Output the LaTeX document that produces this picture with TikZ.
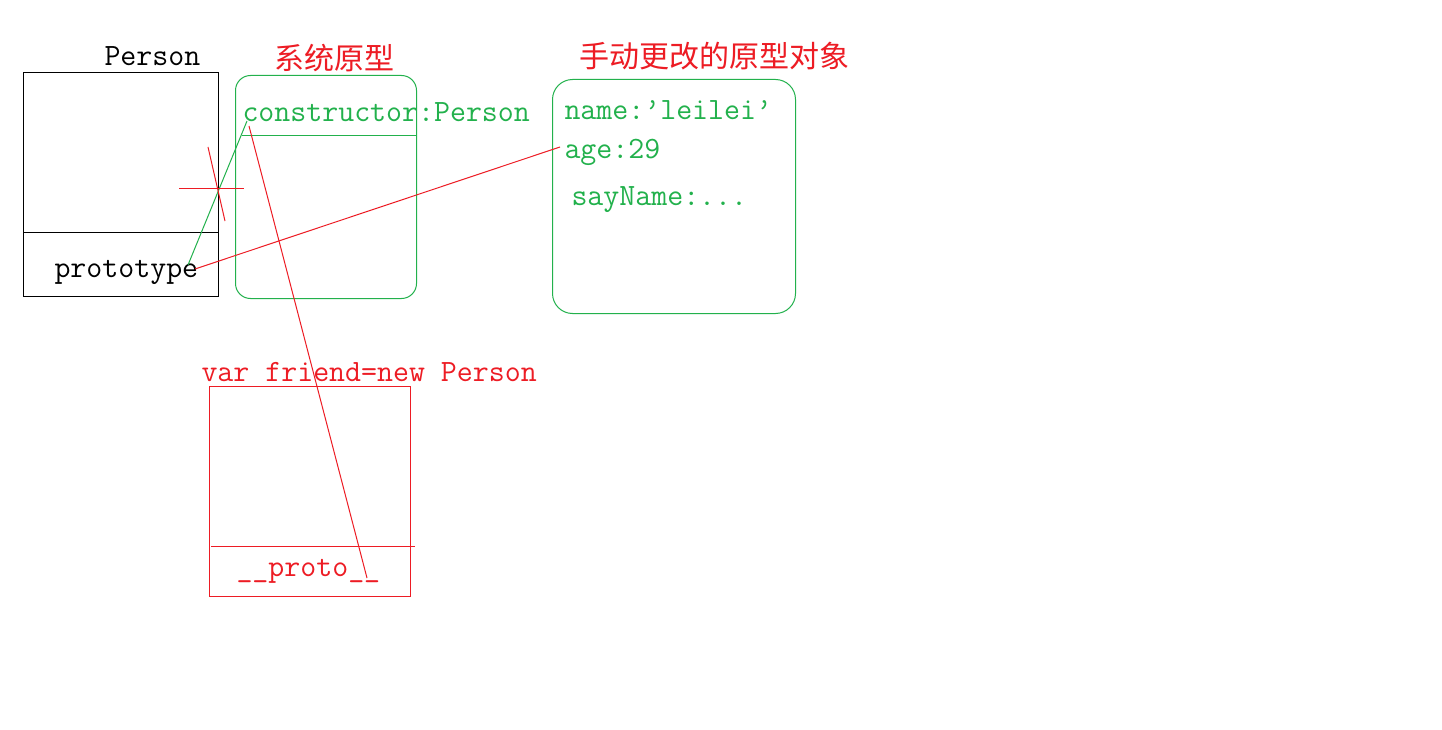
\documentclass[tikz,border=0pt]{standalone}
\usepackage{fontspec}
\newfontfamily\cjk{Noto Sans CJK SC}
\definecolor{pgreen}{RGB}{34,177,76}
\definecolor{pred}{RGB}{237,28,36}
\begin{document}
\begin{tikzpicture}[x=1pt,y=-1pt,line width=1pt,
  code/.style={font=\fontsize{31}{34}\selectfont\ttfamily, inner sep=0pt, anchor=base west},
  cntitle/.style={font=\fontsize{30}{34}\selectfont\cjk, text=pred, inner sep=0pt},
  boxshape/.style={draw, inner sep=0pt, anchor=north west},
  gbox/.style={boxshape, draw=pgreen},
  rbox/.style={boxshape, draw=pred},
  kbox/.style={boxshape, draw=black}]
\useasboundingbox[fill=white] (0,0) rectangle (1442,730);

% boxes
\node[kbox, minimum width=195pt, minimum height=224pt] (person) at (23,72) {};
\draw (23,232) -- (218,232);
\node[gbox, rounded corners=15pt, minimum width=181pt, minimum height=223pt] (sysproto) at (235,75) {};
\draw[pgreen] (242,136) -- (416,136);
\node[gbox, rounded corners=20pt, minimum width=243pt, minimum height=234pt] (newproto) at (552,79) {};
\node[rbox, minimum width=201pt, minimum height=210pt] (friend) at (209,386) {};
\draw[pred] (211,546) -- (415,546);

% texts
\node[code] (ptitle) at (104,66) {Person};
\node[code] (proto) at (54,277) {prototype};
\node[code, text=pgreen] (ctor) at (242,122) {constructor:Person};
\node[code, text=pgreen] (name) at (564,120) {name:’leilei’};
\node[code, text=pgreen] (age) at (564,159) {age:29};
\node[code, text=pgreen] (say) at (571,205) {sayName:...};
\node[code, text=pred] (var) at (201,381) {var friend=new Person};
\node[code, text=pred] (dproto) at (236,576) {\_\_proto\_\_};
\node[cntitle] (t1) at (334,58) {系统原型};
\node[cntitle] (t2) at (714,56) {手动更改的原型对象};

% connectors
\coordinate (gA) at (188,265);
\coordinate (gB) at (247,121);
\draw[pgreen] (gA) -- (gB);
\coordinate (rA) at (195,269);
\coordinate (rB) at (560,147);
\draw[pred] (rA) -- (rB);
\coordinate (rC) at (249,126);
\coordinate (rD) at (367,578);
\draw[pred] (rC) -- (rD);
% cross mark
\coordinate (xA) at (179,189);
\coordinate (xB) at (244,189);
\coordinate (xC) at (208,147);
\coordinate (xD) at (225,221);
\draw[pred] (xA) -- (xB);
\draw[pred] (xC) -- (xD);
\end{tikzpicture}
\end{document}
